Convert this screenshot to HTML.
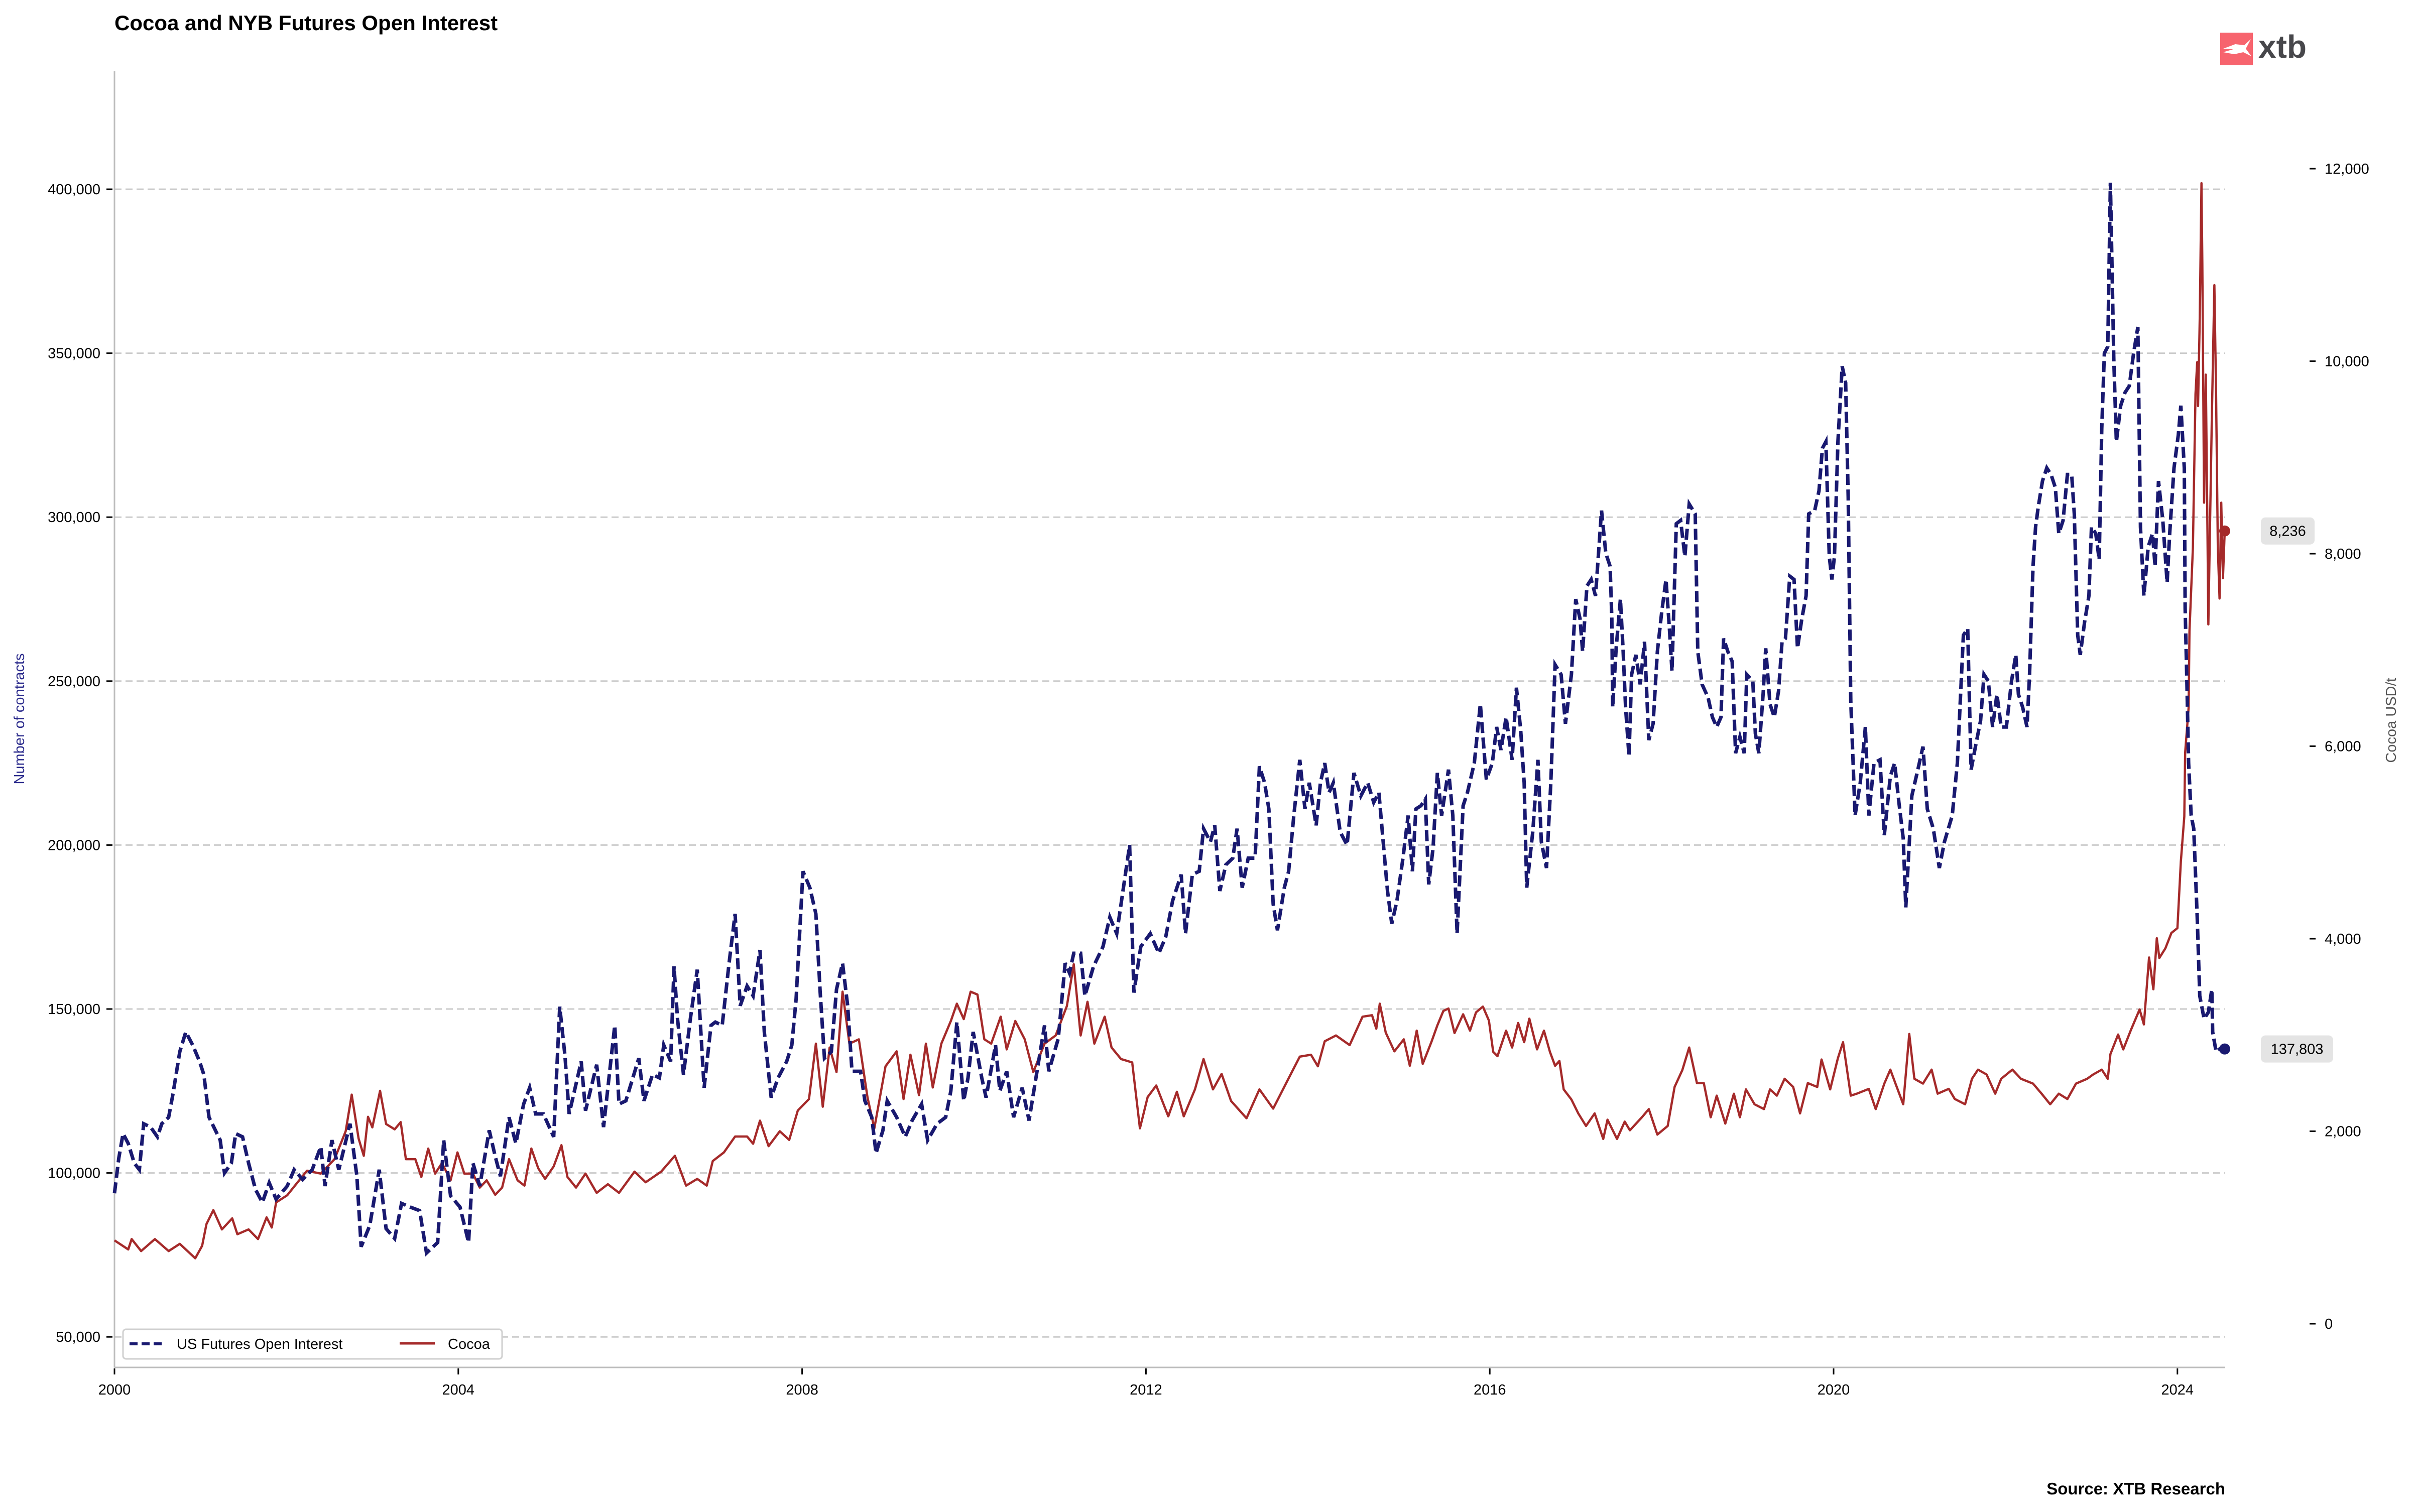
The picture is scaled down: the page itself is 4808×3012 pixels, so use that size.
<!DOCTYPE html>
<html><head><meta charset="utf-8">
<style>
html,body{margin:0;padding:0;background:#fff;}
svg{display:block;font-family:"Liberation Sans",Arial,sans-serif;}
</style></head>
<body>
<svg id="chart" width="4808" height="3012" viewBox="0 0 4808 3012" xmlns="http://www.w3.org/2000/svg">
<rect width="4808" height="3012" fill="#fff"/>
<text x="228" y="60" font-size="42" font-weight="bold" fill="#000">Cocoa and NYB  Futures Open Interest</text>
<g>
<rect x="4422" y="65" width="65" height="65" fill="#f7646e"/>
<path d="M4428 97 L4452 88 L4470 90 L4483 78 L4473 97 L4484 112 L4468 104 L4450 108 L4428 104 L4448 98 Z" fill="#fff"/>
<text x="4498" y="115" font-size="64" font-weight="bold" fill="#47474b">xtb</text>
</g>
<g id="grid"></g>
<line x1="228" y1="142" x2="228" y2="2724" stroke="#bdbdbd" stroke-width="3"/>
<line x1="228" y1="2724" x2="4432" y2="2724" stroke="#bdbdbd" stroke-width="3"/>
<g id="lticks"></g>
<g id="rticks"></g>
<g id="xticks"></g>
<text transform="translate(48,1432) rotate(-90)" text-anchor="middle" font-size="29" fill="#2b2b8c">Number of contracts</text>
<text transform="translate(4772,1435) rotate(-90)" text-anchor="middle" font-size="29" fill="#555">Cocoa USD/t</text>
<g id="series"></g>
<g>
<rect x="245" y="2648" width="755" height="59" rx="6" fill="#fff" stroke="#cfcfcf" stroke-width="3"/>
<line x1="258" y1="2677" x2="326" y2="2677" stroke="#191970" stroke-width="6" stroke-dasharray="16,8"/>
<text x="352" y="2687" font-size="29" fill="#000">US Futures Open Interest</text>
<line x1="796" y1="2676" x2="866" y2="2676" stroke="#a52a2a" stroke-width="5"/>
<text x="892" y="2687" font-size="29" fill="#000">Cocoa</text>
</g>
<text x="4432" y="2977" text-anchor="end" font-size="33" font-weight="bold" fill="#000">Source: XTB Research</text>
</svg>
<script>
const oiYears=[2000.0,2000.05,2000.1,2000.16,2000.23,2000.29,2000.34,2000.42,2000.5,2000.55,2000.63,2000.68,2000.76,2000.83,2000.91,2000.99,2001.04,2001.1,2001.23,2001.28,2001.36,2001.41,2001.49,2001.56,2001.64,2001.72,2001.8,2001.88,2002.01,2002.09,2002.19,2002.3,2002.4,2002.45,2002.53,2002.61,2002.74,2002.82,2002.87,2002.97,2003.08,2003.16,2003.26,2003.34,2003.44,2003.55,2003.63,2003.76,2003.83,2003.91,2004.02,2004.12,2004.17,2004.25,2004.36,2004.43,2004.49,2004.59,2004.67,2004.76,2004.83,2004.9,2004.99,2005.11,2005.18,2005.24,2005.29,2005.43,2005.48,2005.61,2005.69,2005.82,2005.87,2005.95,2006.1,2006.16,2006.26,2006.34,2006.39,2006.47,2006.51,2006.55,2006.62,2006.7,2006.78,2006.86,2006.94,2006.99,2007.07,2007.15,2007.22,2007.28,2007.36,2007.43,2007.51,2007.56,2007.64,2007.72,2007.82,2007.88,2007.93,2008.01,2008.09,2008.16,2008.21,2008.26,2008.34,2008.4,2008.47,2008.53,2008.58,2008.68,2008.73,2008.81,2008.86,2008.94,2008.99,2009.1,2009.2,2009.28,2009.39,2009.46,2009.57,2009.67,2009.73,2009.8,2009.88,2009.93,2009.99,2010.09,2010.14,2010.25,2010.3,2010.38,2010.46,2010.56,2010.64,2010.72,2010.82,2010.87,2010.98,2011.06,2011.11,2011.16,2011.24,2011.29,2011.39,2011.5,2011.58,2011.66,2011.71,2011.81,2011.86,2011.94,2012.05,2012.15,2012.23,2012.31,2012.41,2012.46,2012.54,2012.62,2012.67,2012.75,2012.8,2012.86,2012.93,2013.01,2013.06,2013.12,2013.19,2013.27,2013.32,2013.38,2013.43,2013.48,2013.53,2013.61,2013.66,2013.72,2013.79,2013.85,2013.9,2013.98,2014.03,2014.08,2014.13,2014.18,2014.26,2014.34,2014.42,2014.5,2014.58,2014.65,2014.71,2014.76,2014.81,2014.86,2014.92,2014.99,2015.05,2015.1,2015.14,2015.2,2015.25,2015.29,2015.34,2015.39,2015.44,2015.52,2015.57,2015.62,2015.69,2015.74,2015.82,2015.89,2015.96,2016.03,2016.08,2016.13,2016.19,2016.26,2016.31,2016.36,2016.4,2016.43,2016.5,2016.56,2016.6,2016.66,2016.71,2016.76,2016.83,2016.88,2016.95,2017.0,2017.05,2017.08,2017.13,2017.18,2017.23,2017.3,2017.35,2017.4,2017.42,2017.43,2017.47,2017.52,2017.55,2017.58,2017.62,2017.65,2017.7,2017.75,2017.8,2017.85,2017.9,2017.95,2018.0,2018.05,2018.09,2018.12,2018.17,2018.22,2018.27,2018.32,2018.39,2018.42,2018.47,2018.54,2018.59,2018.64,2018.69,2018.72,2018.77,2018.82,2018.86,2018.91,2018.96,2018.99,2019.06,2019.09,2019.13,2019.18,2019.21,2019.26,2019.31,2019.36,2019.4,2019.44,2019.49,2019.54,2019.58,2019.63,2019.68,2019.71,2019.78,2019.83,2019.87,2019.91,2019.95,2019.98,2020.01,2020.05,2020.1,2020.14,2020.17,2020.2,2020.25,2020.31,2020.37,2020.41,2020.47,2020.54,2020.59,2020.66,2020.71,2020.76,2020.81,2020.84,2020.91,2020.98,2021.04,2021.09,2021.16,2021.23,2021.29,2021.38,2021.44,2021.51,2021.56,2021.6,2021.65,2021.71,2021.75,2021.8,2021.85,2021.9,2021.95,2022.01,2022.07,2022.12,2022.15,2022.2,2022.25,2022.28,2022.32,2022.35,2022.38,2022.43,2022.48,2022.53,2022.58,2022.62,2022.67,2022.72,2022.77,2022.8,2022.84,2022.87,2022.92,2022.97,2023.0,2023.05,2023.09,2023.12,2023.15,2023.19,2023.22,2023.26,2023.29,2023.34,2023.39,2023.44,2023.49,2023.54,2023.57,2023.61,2023.66,2023.71,2023.74,2023.78,2023.83,2023.88,2023.91,2023.96,2024.01,2024.04,2024.08,2024.09,2024.11,2024.13,2024.16,2024.19,2024.23,2024.26,2024.31,2024.36,2024.4,2024.41,2024.45,2024.5,2024.55];
const oiValues=[93.8,104.5,112,109,103,101,115,114,111,115,117,124,137,143,139,134,130,117,110,100,103,112,111,103,95,91,97,92,96,101,98,101,108,96,110,101,115,99,77.5,84,101,83,80,90.7,89.6,88.5,75.6,78.8,110,93,89.6,78.8,103,96,113,105,99,117,109,121,126,118,118,111,150.7,136,118,134,119,133,114,145,121,122,135,122,130,129,139,134,163,147,130,147,162,126,145,146,145,164,179,151,157,154,168,143,123,129,134,139,153,192,187,179,155,135,137,156,164,151,131,131,122,117,106,113,122,117,111,116,121,110,115,117,125,146,122,129,143,129,123,139,125,131,117,126,116,129,145,131,141,164,161,167,167,154,163,169,178,173,182,200,155,169,173,167,172,183,191,173,191,192,205,201,206,186,194,196,205,187,196,196,224,219,211,182,174,187,192,209,226,211,219,206,219,225,216,219,204,200,222,215,219,213,216,201,186,176,183,196,209,192,211,212,214,188,199,222,209,223,209,173,212,216,225,243,220,225,236,229,239,226,248,235,219,187,204,226,201,193,219,255,252,237,252,275,269,259,279,281,276,302,289,285,269,242,260,275,260,242,227,252,258,249,262,232,237,259,271,281,266,253,298,299,288,304,301,259,249,245,239,236,239,263,259,256,228,233,228,252,250,234,228,246,260,243,239,247,262,263,282,281,260,269,276,301,302,308,321,323,288,281,288,323,346,341,306,244,209,219,236,209,225,226,203,221,225,213,202,181,215,223,230,211,205,193,201,209,225,264,266,223,230,238,252,250,236,246,236,236,250,258,246,242,236,252,285,297,303,311,315,313,309,295,299,313,313,301,264,258,268,276,297,295,287,327,350,352,402,348,323,334,338,340,350,358,297,276,291,295,285,311,299,280,295,315,325,334,315,272,250,225,209,205,178,154,147,149,156,143,137,138,137.803];
const cocoaYears=[2000.0,2000.16,2000.2,2000.31,2000.47,2000.63,2000.76,2000.94,2001.02,2001.07,2001.15,2001.25,2001.37,2001.43,2001.56,2001.67,2001.77,2001.83,2001.88,2002.01,2002.09,2002.24,2002.4,2002.56,2002.69,2002.76,2002.84,2002.9,2002.95,2003.0,2003.09,2003.16,2003.26,2003.33,2003.39,2003.5,2003.57,2003.65,2003.73,2003.81,2003.91,2003.99,2004.07,2004.17,2004.25,2004.33,2004.43,2004.51,2004.59,2004.69,2004.77,2004.85,2004.93,2005.01,2005.11,2005.2,2005.27,2005.37,2005.48,2005.61,2005.74,2005.87,2006.05,2006.18,2006.36,2006.52,2006.65,2006.78,2006.89,2006.96,2007.09,2007.22,2007.36,2007.43,2007.51,2007.61,2007.74,2007.85,2007.95,2008.08,2008.16,2008.24,2008.32,2008.4,2008.47,2008.55,2008.66,2008.76,2008.84,2008.97,2009.1,2009.18,2009.26,2009.36,2009.44,2009.52,2009.62,2009.73,2009.8,2009.88,2009.96,2010.04,2010.12,2010.2,2010.31,2010.38,2010.48,2010.59,2010.69,2010.82,2010.95,2011.08,2011.16,2011.24,2011.32,2011.4,2011.52,2011.6,2011.71,2011.84,2011.93,2012.02,2012.12,2012.26,2012.36,2012.44,2012.57,2012.67,2012.78,2012.88,2012.99,2013.17,2013.32,2013.48,2013.64,2013.79,2013.92,2014.0,2014.08,2014.21,2014.37,2014.52,2014.63,2014.68,2014.72,2014.79,2014.89,2015.0,2015.07,2015.15,2015.22,2015.32,2015.39,2015.46,2015.52,2015.59,2015.69,2015.77,2015.84,2015.92,2015.99,2016.04,2016.09,2016.19,2016.26,2016.33,2016.4,2016.46,2016.55,2016.63,2016.7,2016.76,2016.81,2016.86,2016.95,2017.03,2017.12,2017.22,2017.32,2017.37,2017.48,2017.57,2017.63,2017.77,2017.85,2017.95,2018.07,2018.15,2018.24,2018.32,2018.41,2018.49,2018.57,2018.64,2018.74,2018.84,2018.91,2018.98,2019.08,2019.19,2019.26,2019.34,2019.43,2019.53,2019.61,2019.7,2019.81,2019.86,2019.96,2020.05,2020.11,2020.2,2020.27,2020.41,2020.49,2020.59,2020.66,2020.72,2020.81,2020.88,2020.94,2021.04,2021.14,2021.21,2021.34,2021.41,2021.53,2021.61,2021.68,2021.78,2021.88,2021.95,2022.08,2022.18,2022.32,2022.42,2022.52,2022.62,2022.72,2022.82,2022.95,2023.02,2023.12,2023.19,2023.22,2023.31,2023.37,2023.46,2023.56,2023.61,2023.67,2023.72,2023.76,2023.79,2023.86,2023.93,2024.0,2024.04,2024.08,2024.09,2024.13,2024.14,2024.18,2024.21,2024.23,2024.24,2024.26,2024.28,2024.29,2024.31,2024.33,2024.35,2024.36,2024.4,2024.41,2024.43,2024.45,2024.47,2024.49,2024.51,2024.53,2024.55];
const cocoaValues=[866,772,880,755,880,755,830,680,810,1035,1180,980,1095,930,980,880,1105,1000,1260,1335,1425,1590,1560,1710,2000,2380,1925,1745,2150,2040,2420,2075,2020,2095,1710,1710,1525,1820,1560,1670,1490,1780,1560,1560,1415,1490,1340,1415,1710,1490,1435,1820,1615,1505,1635,1855,1525,1415,1560,1360,1450,1360,1580,1470,1580,1745,1435,1505,1435,1690,1780,1945,1945,1870,2110,1845,2000,1910,2215,2335,2910,2255,2870,2615,3450,2910,2955,2355,2030,2675,2830,2335,2795,2375,2910,2455,2910,3145,3325,3165,3450,3420,2955,2910,3190,2850,3145,2955,2615,2910,2995,3300,3735,2995,3345,2910,3190,2870,2750,2715,2030,2355,2475,2155,2410,2155,2435,2750,2435,2595,2315,2135,2435,2235,2515,2775,2795,2675,2935,2995,2895,3190,3205,3065,3325,3025,2830,2955,2680,3045,2700,2925,3100,3250,3275,3020,3215,3045,3235,3295,3150,2825,2780,3045,2870,3125,2925,3170,2850,3045,2825,2680,2730,2435,2330,2185,2055,2185,1920,2120,1920,2100,2010,2145,2230,1965,2055,2460,2635,2870,2500,2500,2145,2370,2080,2390,2145,2435,2280,2230,2435,2370,2545,2460,2185,2500,2460,2745,2435,2760,2925,2370,2390,2440,2230,2495,2640,2495,2280,3010,2545,2495,2640,2390,2440,2335,2280,2545,2640,2590,2390,2545,2640,2545,2495,2390,2280,2390,2335,2495,2545,2590,2640,2545,2800,3005,2850,3055,3265,3110,3805,3475,4005,3800,3900,4060,4110,4800,5270,5935,6400,7195,8060,9660,9990,9535,10455,11850,11020,8530,9860,8200,7265,9400,9860,10790,9660,8060,7535,8530,7745,8236];
const leftTicks=[50000,100000,150000,200000,250000,300000,350000,400000];
const rightTicks=[0,2000,4000,6000,8000,10000,12000];
const xTicks=[2000,2004,2008,2012,2016,2020,2024];

const NS='http://www.w3.org/2000/svg';
const xS=y=>228+(y-2000)*171.2;
const yL=v=>377+(400000-v)*326.6/50000;
const yR=v=>2637-v*383.5/2000;
const fmt=n=>n.toLocaleString('en-US');
function mk(tag,attrs,parent){const e=document.createElementNS(NS,tag);for(const k in attrs)e.setAttribute(k,attrs[k]);parent.appendChild(e);return e;}
const grid=document.getElementById('grid'),lt=document.getElementById('lticks'),rt=document.getElementById('rticks'),xt=document.getElementById('xticks'),ser=document.getElementById('series');
leftTicks.forEach(v=>{
  const y=yL(v);
  const g=mk('line',{x1:228,x2:4432,y1:y,y2:y,stroke:'#cbcbcb','stroke-width':3,'stroke-dasharray':'14,8'},grid);
  
  
  const t=mk('line',{x1:212,x2:224,y1:y,y2:y,stroke:'#000','stroke-width':3},lt);
  
  
  const l=mk('text',{x:200,y:y+10,'text-anchor':'end','font-size':29,fill:'#000'},lt);
  l.textContent=fmt(v);
  
  
});
rightTicks.forEach(v=>{
  const y=yR(v);
  const t=mk('line',{x1:4600,x2:4612,y1:y,y2:y,stroke:'#000','stroke-width':3},rt);
  
  
  const l=mk('text',{x:4630,y:y+10,'font-size':29,fill:'#000'},rt);
  l.textContent=fmt(v);
  
  
});
xTicks.forEach(v=>{
  const x=xS(v);
  const t=mk('line',{x1:x,x2:x,y1:2726,y2:2738,stroke:'#000','stroke-width':3},xt);
  
  
  const l=mk('text',{x:x,y:2778,'text-anchor':'middle','font-size':29,fill:'#000'},xt);
  l.textContent=String(v);
  
  
});
const cp=mk('path',{d:cocoaYears.map((y,i)=>(i?'L':'M')+xS(y).toFixed(1)+' '+yR(cocoaValues[i]).toFixed(1)).join(''),fill:'none',stroke:'#a52a2a','stroke-width':4.5,'stroke-linejoin':'round'},ser);


const op=mk('path',{d:oiYears.map((y,i)=>(i?'L':'M')+xS(y).toFixed(1)+' '+yL(oiValues[i]*1000).toFixed(1)).join(''),fill:'none',stroke:'#191970','stroke-width':7,'stroke-dasharray':'22,9'},ser);


const lo=oiValues.length-1,lc=cocoaValues.length-1;
const d1=mk('circle',{cx:xS(oiYears[lo]),cy:yL(oiValues[lo]*1000),r:11,fill:'#191970'},ser);


const d2=mk('circle',{cx:xS(cocoaYears[lc]),cy:yR(cocoaValues[lc]),r:11,fill:'#a52a2a'},ser);


function badge(txt,cy,w,name){
  const r=mk('rect',{x:4503,y:cy-27,width:w,height:54,rx:9,fill:'#e4e4e4'},ser);
  
  
  const t=mk('text',{x:4503+w/2,y:cy+10,'text-anchor':'middle','font-size':29,fill:'#000'},ser);
  t.textContent=txt;
  
  
}
badge(fmt(cocoaValues[lc]),yR(cocoaValues[lc]),107,'cocoa-last-value-label');
badge(fmt(Math.round(oiValues[lo]*1000)),yL(oiValues[lo]*1000),144,'open-interest-last-value-label');
</script>
</body></html>
